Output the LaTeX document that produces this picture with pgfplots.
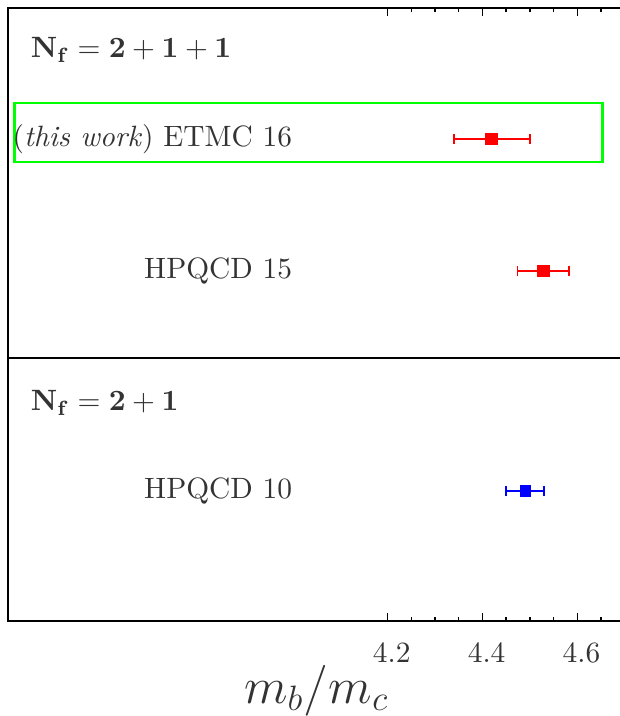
\documentclass[border=0pt]{standalone}
\usepackage{pgfplots}
\pgfplotsset{compat=1.18}
\begin{document}
\begin{tikzpicture}
\begin{axis}[
  scale only axis,
  width=209.7pt, height=208.4pt,
  xmin=3.4, xmax=4.7, ymin=0, ymax=613,
  xtick={4.2,4.4,4.6},
  xticklabels={4.2,4.4,4.6},
  minor xtick={4.25,4.3,4.35,4.45,4.5,4.55,4.65},
  ytick=\empty,
  major tick length=2.6pt, minor tick length=1.3pt,
  axis line style={line width=0.6pt},
  every tick/.style={black, line width=0.5pt},
  xticklabel style={yshift=-3.9pt, xshift=1.4pt, text=black!80},
  xlabel={$m_b/m_c$},
  xlabel style={font=\LARGE, text=black!80, at={(axis description cs:0.5,0)}, anchor=base, yshift=-27.9pt},
  clip=false,
]
\coordinate (bl) at (rel axis cs:-0.01297,-0.15498);
\coordinate (tr) at (rel axis cs:0.99059,1.01305);
\draw[line width=0.6pt] (axis cs:3.4,263) -- (axis cs:4.7,263);
\draw[draw={rgb,255:red,0;green,255;blue,0}, line width=1pt] (axis cs:3.413,459) rectangle (axis cs:4.653,518);
\node[anchor=west, inner sep=0pt, text=black!80] at (axis cs:3.447,571) {$\mathbf{N_f = 2 + 1 + 1}$};
\node[anchor=west, inner sep=0pt, text=black!80] at (axis cs:3.447,218) {$\mathbf{N_f = 2 + 1}$};
\node[anchor=east, inner sep=0pt, text=black!80] at (axis cs:4.0,482) {(\textit{this work}) ETMC 16};
\node[anchor=east, inner sep=0pt, text=black!80] at (axis cs:4.0,350) {HPQCD 15};
\node[anchor=east, inner sep=0pt, text=black!80] at (axis cs:4.0,130) {HPQCD 10};
\addplot[only marks, mark=square*, mark size=2pt, color={rgb,255:red,255;green,0;blue,0},
  error bars/.cd, x dir=both, x explicit,
  error bar style={line width=0.5pt},
  error mark options={rotate=90, mark size=1.85pt, line width=0.5pt}]
  coordinates {(4.42,482) +- (0.08,0) (4.528,350) +- (0.054,0)};
\addplot[only marks, mark=square*, mark size=1.7pt, color={rgb,255:red,0;green,0;blue,255},
  error bars/.cd, x dir=both, x explicit,
  error bar style={line width=0.5pt},
  error mark options={rotate=90, mark size=1.85pt, line width=0.5pt}]
  coordinates {(4.49,130) +- (0.04,0)};
\end{axis}
\pgfresetboundingbox
\useasboundingbox (bl) rectangle (tr);
\end{tikzpicture}
\end{document}
